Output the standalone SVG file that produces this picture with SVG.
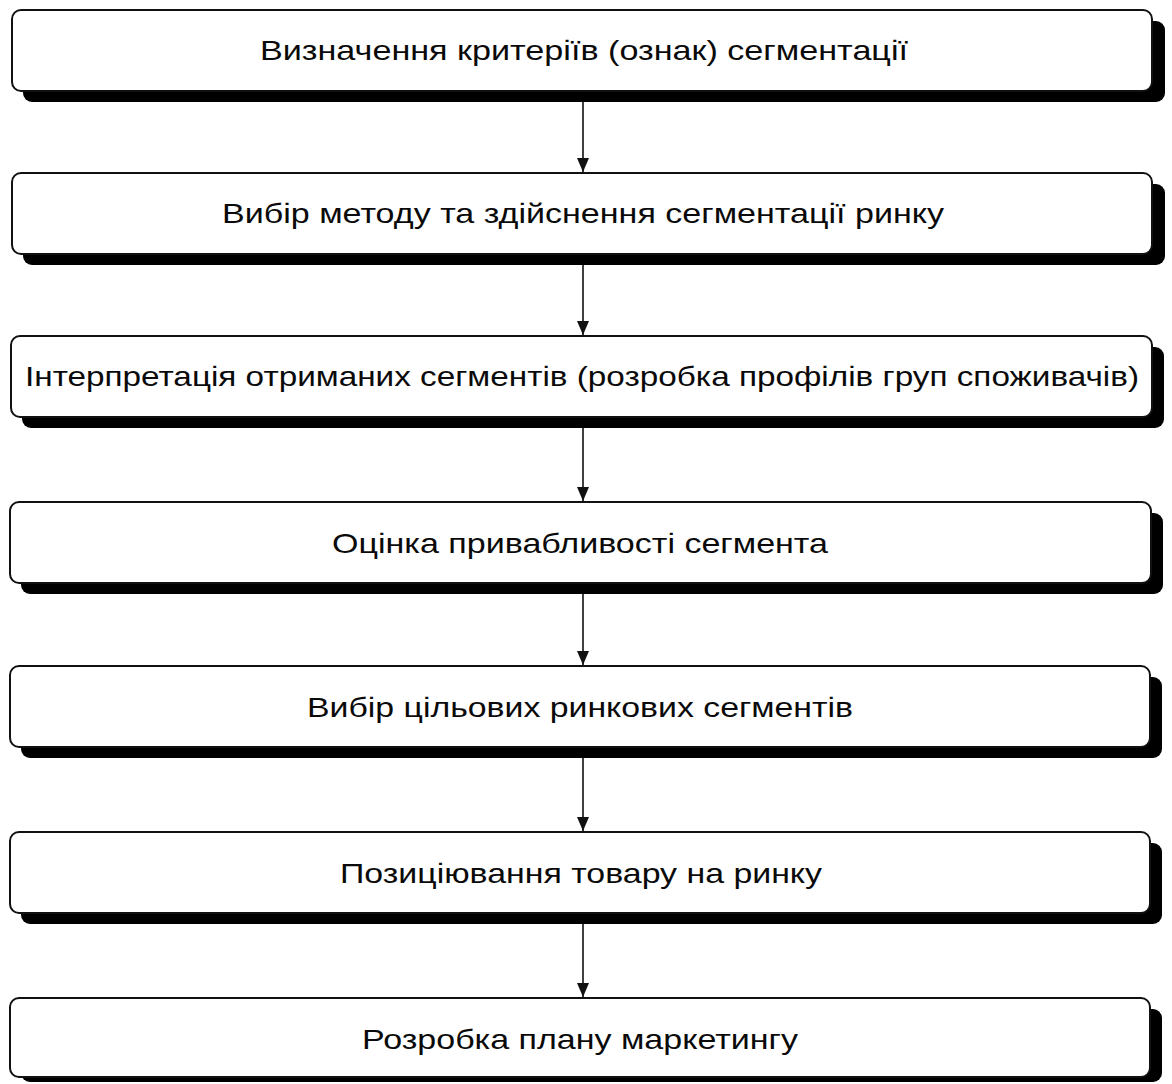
<svg xmlns="http://www.w3.org/2000/svg" width="1172" height="1084" viewBox="0 0 1172 1084">
<style>
.shadow{fill:#000}
.box{fill:#fff;stroke:#111;stroke-width:2}
.lbl{font-family:"Liberation Sans",Arial,sans-serif;font-size:28px;fill:#0a0a0a;text-anchor:middle}
.conn{stroke:#111;stroke-width:1.6;fill:none;marker-end:url(#ah)}
</style>
<defs>
<marker id="ah" viewBox="0 0 14 12" refX="14" refY="6" markerWidth="14" markerHeight="12" markerUnits="userSpaceOnUse" orient="auto">
<path d="M0,0 L14,6 L0,12 Z" fill="#111"/>
</marker>
</defs>
<g id="connectors">
<line class="conn" x1="583" y1="102" x2="583" y2="172"/>
<line class="conn" x1="583" y1="265" x2="583" y2="335"/>
<line class="conn" x1="583" y1="428" x2="583" y2="501"/>
<line class="conn" x1="583" y1="594" x2="583" y2="665"/>
<line class="conn" x1="583" y1="758" x2="583" y2="831"/>
<line class="conn" x1="583" y1="924" x2="583" y2="997"/>
</g>
<g id="n1">
<rect class="shadow" x="23" y="21" width="1142" height="81" rx="9"/>
<rect class="box" x="12" y="10" width="1140" height="81" rx="9"/>
<text class="lbl" x="584" y="60" textLength="648" lengthAdjust="spacingAndGlyphs">Визначення критеріїв (ознак) сегментації</text>
</g>
<g id="n2">
<rect class="shadow" x="23" y="184" width="1142" height="81" rx="9"/>
<rect class="box" x="12" y="173" width="1140" height="81" rx="9"/>
<text class="lbl" x="583" y="223" textLength="722" lengthAdjust="spacingAndGlyphs">Вибір методу та здійснення сегментації ринку</text>
</g>
<g id="n3">
<rect class="shadow" x="22" y="347" width="1142" height="81" rx="9"/>
<rect class="box" x="11" y="336" width="1141" height="81" rx="9"/>
<text class="lbl" x="582" y="386" textLength="1114" lengthAdjust="spacingAndGlyphs">Інтерпретація отриманих сегментів (розробка профілів груп споживачів)</text>
</g>
<g id="n4">
<rect class="shadow" x="21" y="513" width="1142" height="81" rx="9"/>
<rect class="box" x="10" y="502" width="1141" height="81" rx="9"/>
<text class="lbl" x="580" y="553" textLength="496" lengthAdjust="spacingAndGlyphs">Оцінка привабливості сегмента</text>
</g>
<g id="n5">
<rect class="shadow" x="21" y="677" width="1141" height="81" rx="9"/>
<rect class="box" x="10" y="666" width="1140" height="81" rx="9"/>
<text class="lbl" x="580" y="717" textLength="546" lengthAdjust="spacingAndGlyphs">Вибір цільових ринкових сегментів</text>
</g>
<g id="n6">
<rect class="shadow" x="21" y="843" width="1141" height="81" rx="9"/>
<rect class="box" x="10" y="832" width="1140" height="81" rx="9"/>
<text class="lbl" x="581" y="883" textLength="482" lengthAdjust="spacingAndGlyphs">Позиціювання товару на ринку</text>
</g>
<g id="n7">
<rect class="shadow" x="21" y="1009" width="1141" height="73" rx="9"/>
<rect class="box" x="10" y="998" width="1140" height="79" rx="9"/>
<text class="lbl" x="580" y="1049" textLength="436" lengthAdjust="spacingAndGlyphs">Розробка плану маркетингу</text>
</g>
</svg>
